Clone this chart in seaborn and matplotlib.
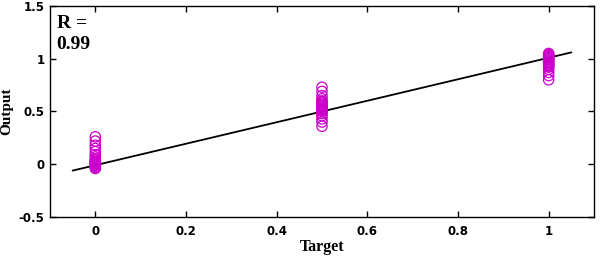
import numpy as np
import pandas as pd
import matplotlib
matplotlib.use("Agg")
import matplotlib.pyplot as plt
import seaborn as sns

# Data
out_t0 = [0.26, 0.22, 0.18, 0.15, 0.12, 0.09, 0.07, 0.05, 0.04, 0.03,
          0.02, 0.01, 0.00, -0.01, -0.02, -0.03, -0.04, 0.00, 0.02]
out_t05 = [0.73, 0.69, 0.65, 0.62, 0.60, 0.59, 0.58, 0.57, 0.56, 0.55,
           0.54, 0.53, 0.52, 0.51, 0.50, 0.48, 0.46, 0.43, 0.40, 0.36]
out_t1 = [1.05, 1.04, 1.03, 1.02, 1.01, 1.00, 0.99, 0.98, 0.97, 0.96,
          0.95, 0.94, 0.93, 0.92, 0.90, 0.87, 0.84, 0.80]
fit_x = [-0.05, 1.05]
fit_y = [-0.06, 1.06]
xticks = [0, 0.2, 0.4, 0.6, 0.8, 1]
yticks = [-0.5, 0, 0.5, 1, 1.5]
r_text = "R =\n0.99"

df = pd.DataFrame({
    "Target": [0.0] * len(out_t0) + [0.5] * len(out_t05) + [1.0] * len(out_t1),
    "Output": out_t0 + out_t05 + out_t1,
})

sns.set_style("ticks", rc={"text.color": "black", "axes.labelcolor": "black",
                           "xtick.color": "black", "ytick.color": "black",
                           "axes.edgecolor": "black"})
fig = plt.figure(figsize=(6.0, 2.59), dpi=100)
ax = fig.add_axes([0.0833, 0.162, 0.9067, 0.815])

sns.lineplot(x=fit_x, y=fit_y, ax=ax, color="black", linewidth=1.3)
sns.scatterplot(data=df, x="Target", y="Output", ax=ax, s=55,
                facecolors="none", edgecolor="#cc00cc", linewidth=0.9,
                marker="o", zorder=3)

ax.set_xlim(-0.1, 1.1)
ax.set_ylim(-0.5, 1.5)
ax.set_xticks(xticks)
ax.set_yticks(yticks)
ax.set_xticklabels(["0", "0.2", "0.4", "0.6", "0.8", "1"])
ax.set_yticklabels(["-0.5", "0", "0.5", "1", "1.5"])
ax.tick_params(direction="in", top=True, right=True, length=4, width=1,
               labelsize=8.5, colors="black")
ax.tick_params(axis="y", pad=4)
ax.tick_params(axis="x", pad=6)
for lab in ax.get_xticklabels() + ax.get_yticklabels():
    lab.set_fontweight("bold")
    lab.set_family("DejaVu Sans")
for sp in ax.spines.values():
    sp.set_linewidth(1.0)
    sp.set_color("black")

ax.set_xlabel("Target", fontsize=11.5, fontweight="bold", family="Liberation Serif",
              color="black")
ax.set_ylabel("Output", fontsize=11, fontweight="bold", family="Liberation Serif",
              color="black")
ax.yaxis.set_label_coords(-0.067, 0.5)
ax.xaxis.set_label_coords(0.5, -0.105)

ax.text(0.012, 0.955, r_text, transform=ax.transAxes, ha="left", va="top",
        fontsize=14, fontweight="bold", family="Liberation Serif",
        linespacing=1.3, color="black")

fig.savefig("out.png", dpi=100)
